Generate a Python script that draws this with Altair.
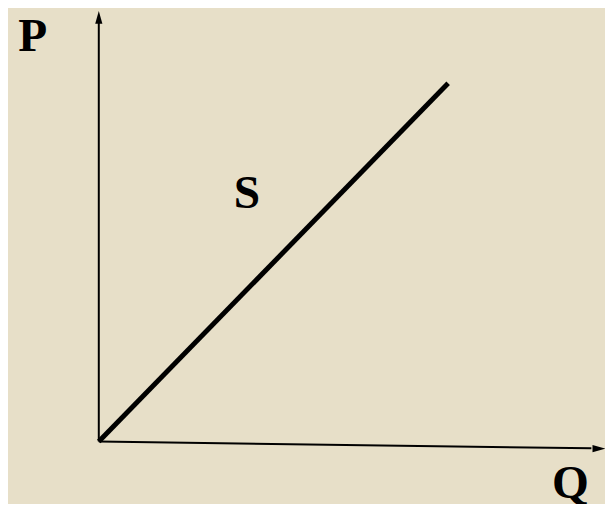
import altair as alt
import pandas as pd

# Supply curve (Q, P)
supply_q = [0, 10]
supply_p = [0, 10]

# Axis lines (start, end)
yaxis_q = [0, 0]
yaxis_p = [0, 11.7]
xaxis_q = [0, 14.1]
xaxis_p = [0, -0.19]

# Arrow tips
arrow_up = {"q": [0], "p": [12.02]}
arrow_right = {"q": [14.5], "p": [-0.2]}

# Labels
label_text = ["P", "S", "Q"]
label_q = [-1.89, 4.24, 13.5]
label_p = [10.91, 6.53, -1.59]

XS = alt.Scale(domain=[-2.599, 14.49], nice=False, zero=False)
YS = alt.Scale(domain=[-1.653, 12.01], nice=False, zero=False)

def xe():
    return alt.X("q:Q", scale=XS, axis=None)

def ye():
    return alt.Y("p:Q", scale=YS, axis=None)

supply = alt.Chart(pd.DataFrame({"q": supply_q, "p": supply_p, "o": [0, 1]})).mark_line(
    color="black", strokeWidth=5, strokeCap="butt"
).encode(x=xe(), y=ye(), order="o:Q")

yaxis = alt.Chart(pd.DataFrame({"q": yaxis_q, "p": yaxis_p, "o": [0, 1]})).mark_line(
    color="black", strokeWidth=2
).encode(x=xe(), y=ye(), order="o:Q")

xaxis = alt.Chart(pd.DataFrame({"q": xaxis_q, "p": xaxis_p, "o": [0, 1]})).mark_line(
    color="black", strokeWidth=2
).encode(x=xe(), y=ye(), order="o:Q")

up = alt.Chart(pd.DataFrame(arrow_up)).mark_point(
    shape="M0,0L-0.28,1L0.28,1Z", size=676, filled=True, color="black", opacity=1
).encode(x=xe(), y=ye())

right = alt.Chart(pd.DataFrame(arrow_right)).mark_point(
    shape="M0,0L-1,-0.28L-1,0.28Z", size=676, filled=True, color="black", opacity=1
).encode(x=xe(), y=ye())

labels = alt.Chart(pd.DataFrame({"q": label_q, "p": label_p, "t": label_text})).mark_text(
    font="Liberation Serif", fontWeight="bold", fontSize=48, color="black",
    align="center", baseline="alphabetic"
).encode(x=xe(), y=ye(), text="t:N")

chart = alt.layer(yaxis, xaxis, supply, up, right, labels).properties(
    width=605, height=496,
    autosize=alt.AutoSizeParams(type="none"),
    padding=0,
    background="#E7DFC8",
).configure_view(stroke=None)

chart.save("out.html", embed_options={"renderer": "svg", "actions": False})
